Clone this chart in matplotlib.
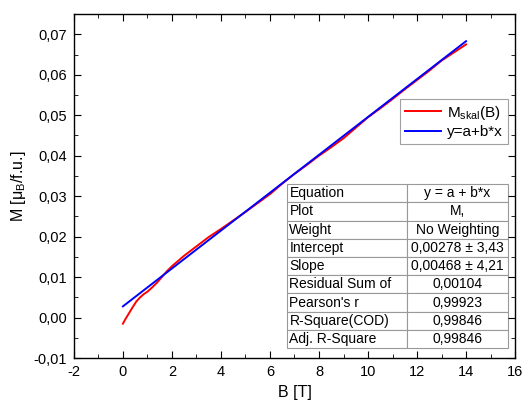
import numpy as np
import matplotlib
matplotlib.use("Agg")
import matplotlib.pyplot as plt
from matplotlib.ticker import MultipleLocator, FuncFormatter

plt.rcParams['font.family'] = ['Liberation Sans', 'DejaVu Sans']
plt.rcParams['mathtext.fontset'] = 'custom'
plt.rcParams['mathtext.rm'] = 'Liberation Sans'
plt.rcParams['mathtext.it'] = 'Liberation Sans:italic'

# measured magnetisation
field = [0.0, 0.1, 0.25, 0.4, 0.55, 0.7, 0.85, 1.0, 1.2, 1.4, 1.6, 1.8, 2.0,
         2.5, 3.0, 3.5, 4.0, 4.5, 5.0, 5.5, 6.0, 6.5, 7.0, 7.5, 8.0, 8.5,
         9.0, 9.5, 10.0, 10.5, 11.0, 11.5, 12.0, 12.5, 13.0, 13.5, 14.0]
moment = [-0.0015, -0.0004, 0.0011, 0.0026, 0.0040, 0.0050, 0.0058, 0.0064, 0.0075,
          0.0087, 0.0101, 0.0115, 0.0127, 0.0153, 0.0176, 0.0199, 0.0219, 0.0240,
          0.0261, 0.0283, 0.0305, 0.0331, 0.0355, 0.0377, 0.0400, 0.0421,
          0.0443, 0.0469, 0.0495, 0.0517, 0.0540, 0.0564, 0.0587, 0.0610,
          0.0635, 0.0655, 0.0675]

# linear fit y = a + b*x
fit_a = 0.00278
fit_b = 0.00468
fit_x = np.array([0.0, 14.0])

table_rows = [
    ["Equation", "y = a + b*x"],
    ["Plot", "M,"],
    ["Weight", "No Weighting"],
    ["Intercept", "0,00278 \u00b1 3,43"],
    ["Slope", "0,00468 \u00b1 4,21"],
    ["Residual Sum of", "0,00104"],
    ["Pearson's r", "0,99923"],
    ["R-Square(COD)", "0,99846"],
    ["Adj. R-Square", "0,99846"],
]

fig = plt.figure(figsize=(5.24, 4.01), dpi=100)
ax = fig.add_axes([0.141, 0.107, 0.842, 0.858])

ax.plot(field, moment, color='red', lw=1.4, label=r'M$_{\mathregular{skal}}$(B)')
ax.plot(fit_x, fit_a + fit_b * fit_x, color='blue', lw=1.4, label='y=a+b*x')

ax.set_xlim(-2, 16)
ax.set_ylim(-0.01, 0.075)
ax.xaxis.set_major_locator(MultipleLocator(2))
ax.xaxis.set_minor_locator(MultipleLocator(1))
ax.yaxis.set_major_locator(MultipleLocator(0.01))
ax.yaxis.set_minor_locator(MultipleLocator(0.005))
ax.xaxis.set_major_formatter(FuncFormatter(lambda v, p: f"{v:.0f}"))
ax.yaxis.set_major_formatter(FuncFormatter(lambda v, p: f"{v:.2f}".replace('.', ',')))
ax.tick_params(which='both', direction='in', top=True, right=True, labelsize=10.5)
ax.tick_params(which='major', length=5, pad=5)
ax.tick_params(which='minor', length=3)
for s in ax.spines.values():
    s.set_linewidth(1.0)

ax.set_xlabel('B [T]', fontsize=11.5)
ax.set_ylabel(r'M [μ$_{\mathregular{B}}$/f.u.]', fontsize=11.5)

leg = ax.legend(loc='upper left', bbox_to_anchor=(0.722, 0.775), fontsize=11,
                frameon=True, fancybox=False, edgecolor='#888888',
                handlelength=2.4, borderpad=0.3, labelspacing=0.25, handletextpad=0.4)
leg.get_frame().set_linewidth(0.8)

tab = ax.table(cellText=table_rows, cellLoc='center',
               bbox=[(287 - 74) / 441, (401 - 348 - 43) / 344, (508 - 287) / 441, (348 - 184) / 344])
tab.auto_set_font_size(False)
tab.set_fontsize(10)
for (r, c), cell in tab.get_celld().items():
    cell.set_edgecolor('#999999')
    cell.set_linewidth(0.8)
    cell.set_facecolor('white')
    if c == 0:
        cell.set_width((407 - 287) / 441)
        cell.get_text().set_horizontalalignment('left')
        cell.PAD = 0.02
    else:
        cell.set_width((508 - 407) / 441)

fig.savefig('out.png', dpi=100)
